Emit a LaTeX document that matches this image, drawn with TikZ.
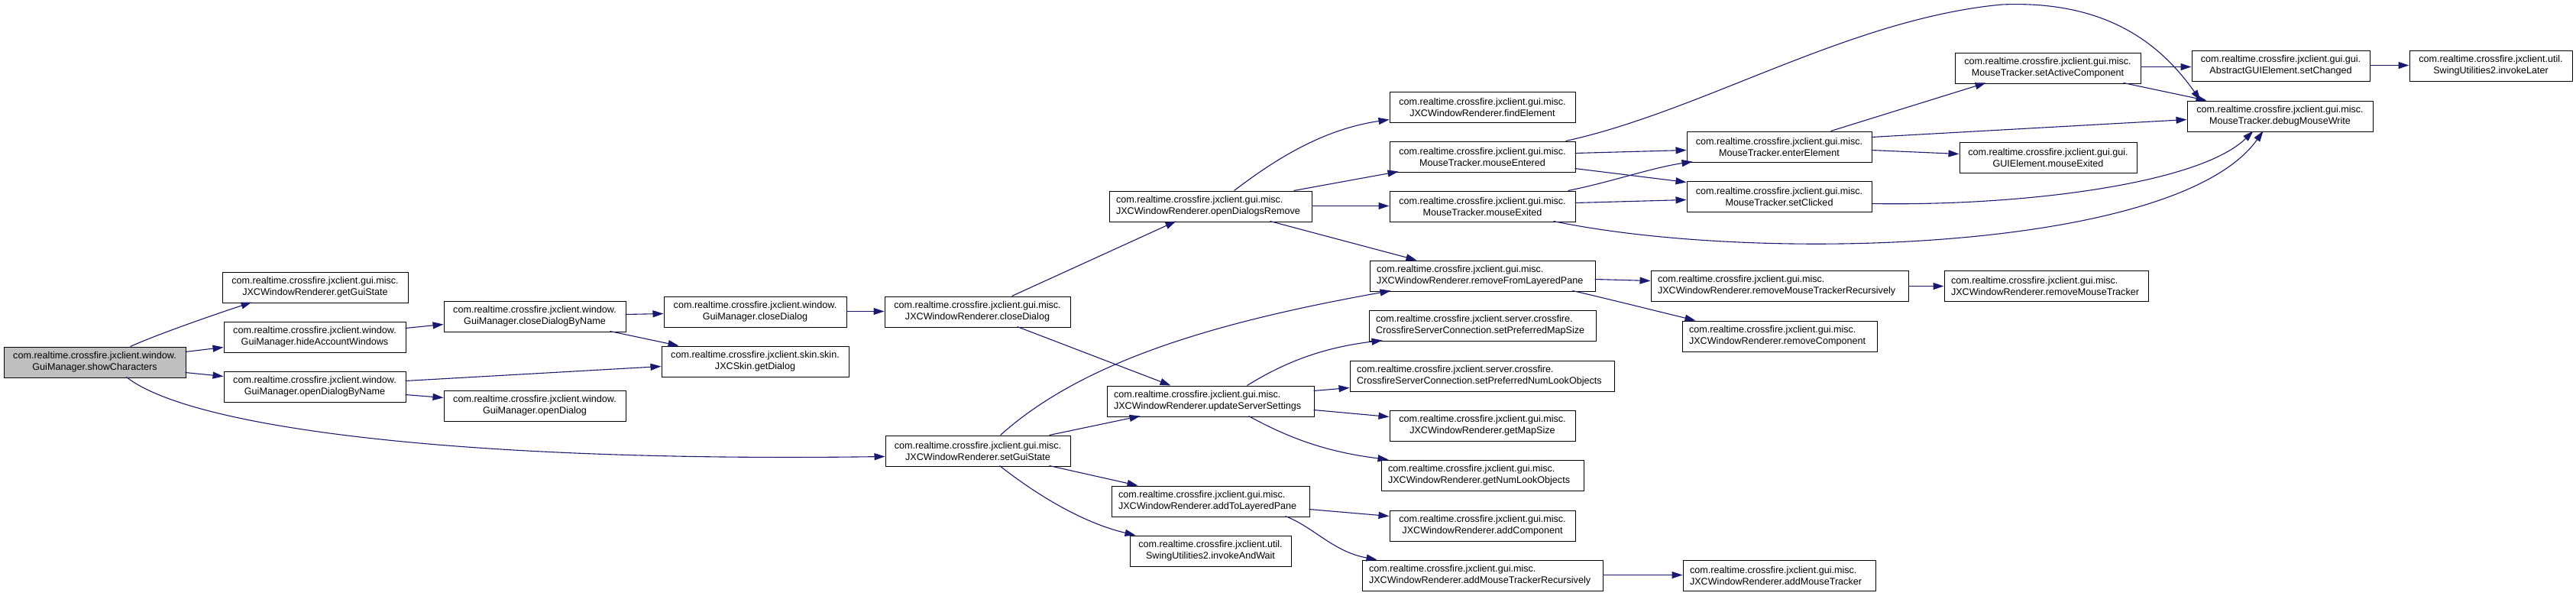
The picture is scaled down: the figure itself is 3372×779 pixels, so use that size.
\documentclass[tikz,border=0pt]{standalone}
\usepackage{fontspec}
\setmainfont{Liberation Sans}
\usetikzlibrary{arrows.meta}
\definecolor{edgeblue}{HTML}{191970}
\definecolor{rootgray}{HTML}{BFBFBF}
\newcommand\bnode[7]{%
 \pgfmathsetmacro\mybw{#4-#2}%
 \pgfmathsetmacro\mytw{#4-#2-18}%
 \node[box,minimum width=\mybw pt,text width=\mytw pt,align=#6] (#1) at ({(#2+#4)/2},{(#3+#5)/2}) {#7};}
\begin{document}
\begin{tikzpicture}[x=1pt,y=-1pt,
  box/.style={draw=black, line width=1pt, minimum height=40pt, inner xsep=9pt, inner ysep=2pt,
    font=\fontsize{12.6}{15}\selectfont, fill=white},
  edge/.style={draw=edgeblue, line width=1.1pt, -{Triangle[length=14pt,width=9pt]}}]
\useasboundingbox[fill=white] (0,0) rectangle (3372,779);
\bnode{sc}{5}{454}{243}{494}{center,fill=rootgray}{com.realtime.crossfire.jxclient.window.\\GuiManager.showCharacters}
\bnode{ggs}{291}{356}{534}{396}{center}{com.realtime.crossfire.jxclient.gui.misc.\\JXCWindowRenderer.getGuiState}
\bnode{hide}{293}{421}{531}{461}{center}{com.realtime.crossfire.jxclient.window.\\GuiManager.hideAccountWindows}
\bnode{odbn}{293}{486}{531}{526}{center}{com.realtime.crossfire.jxclient.window.\\GuiManager.openDialogByName}
\bnode{cdbn}{581}{394}{819}{434}{center}{com.realtime.crossfire.jxclient.window.\\GuiManager.closeDialogByName}
\bnode{gmcd}{869}{388}{1108}{428}{center}{com.realtime.crossfire.jxclient.window.\\GuiManager.closeDialog}
\bnode{gd}{866}{453}{1111}{493}{center}{com.realtime.crossfire.jxclient.skin.skin.\\JXCSkin.getDialog}
\bnode{od}{581}{511}{819}{551}{center}{com.realtime.crossfire.jxclient.window.\\GuiManager.openDialog}
\bnode{wrcd}{1158}{388}{1401}{428}{center}{com.realtime.crossfire.jxclient.gui.misc.\\JXCWindowRenderer.closeDialog}
\bnode{odr}{1452}{250}{1717}{290}{left}{com.realtime.crossfire.jxclient.gui.misc.\\JXCWindowRenderer.openDialogsRemove}
\bnode{sgs}{1159}{570}{1401}{610}{center}{com.realtime.crossfire.jxclient.gui.misc.\\JXCWindowRenderer.setGuiState}
\bnode{uss}{1449}{505}{1720}{545}{left}{com.realtime.crossfire.jxclient.gui.misc.\\JXCWindowRenderer.updateServerSettings}
\bnode{atlp}{1455}{636}{1714}{676}{left}{com.realtime.crossfire.jxclient.gui.misc.\\JXCWindowRenderer.addToLayeredPane}
\bnode{iaw}{1479}{701}{1690}{741}{center}{com.realtime.crossfire.jxclient.util.\\SwingUtilities2.invokeAndWait}
\bnode{fe}{1819}{120}{2062}{160}{center}{com.realtime.crossfire.jxclient.gui.misc.\\JXCWindowRenderer.findElement}
\bnode{me}{1819}{185}{2062}{225}{center}{com.realtime.crossfire.jxclient.gui.misc.\\MouseTracker.mouseEntered}
\bnode{mx}{1819}{250}{2062}{290}{center}{com.realtime.crossfire.jxclient.gui.misc.\\MouseTracker.mouseExited}
\bnode{rflp}{1793}{341}{2088}{381}{left}{com.realtime.crossfire.jxclient.gui.misc.\\JXCWindowRenderer.removeFromLayeredPane}
\bnode{spms}{1792}{406}{2089}{446}{left}{com.realtime.crossfire.jxclient.server.crossfire.\\CrossfireServerConnection.setPreferredMapSize}
\bnode{spnlo}{1767}{472}{2113}{512}{left}{com.realtime.crossfire.jxclient.server.crossfire.\\CrossfireServerConnection.setPreferredNumLookObjects}
\bnode{gms}{1819}{537}{2062}{577}{center}{com.realtime.crossfire.jxclient.gui.misc.\\JXCWindowRenderer.getMapSize}
\bnode{gnlo}{1808}{602}{2073}{642}{left}{com.realtime.crossfire.jxclient.gui.misc.\\JXCWindowRenderer.getNumLookObjects}
\bnode{ac}{1819}{668}{2062}{708}{center}{com.realtime.crossfire.jxclient.gui.misc.\\JXCWindowRenderer.addComponent}
\bnode{amtr}{1783}{733}{2098}{773}{left}{com.realtime.crossfire.jxclient.gui.misc.\\JXCWindowRenderer.addMouseTrackerRecursively}
\bnode{ee}{2208}{172}{2450}{212}{center}{com.realtime.crossfire.jxclient.gui.misc.\\MouseTracker.enterElement}
\bnode{scl}{2208}{237}{2450}{277}{center}{com.realtime.crossfire.jxclient.gui.misc.\\MouseTracker.setClicked}
\bnode{rmtr}{2161}{354}{2498}{394}{left}{com.realtime.crossfire.jxclient.gui.misc.\\JXCWindowRenderer.removeMouseTrackerRecursively}
\bnode{rc}{2202}{420}{2457}{460}{left}{com.realtime.crossfire.jxclient.gui.misc.\\JXCWindowRenderer.removeComponent}
\bnode{rmt}{2545}{354}{2812}{394}{left}{com.realtime.crossfire.jxclient.gui.misc.\\JXCWindowRenderer.removeMouseTracker}
\bnode{amt}{2203}{733}{2455}{773}{left}{com.realtime.crossfire.jxclient.gui.misc.\\JXCWindowRenderer.addMouseTracker}
\bnode{sac}{2559}{69}{2802}{109}{center}{com.realtime.crossfire.jxclient.gui.misc.\\MouseTracker.setActiveComponent}
\bnode{gme}{2565}{186}{2797}{226}{center}{com.realtime.crossfire.jxclient.gui.gui.\\GUIElement.mouseExited}
\bnode{sch}{2869}{66}{3102}{106}{center}{com.realtime.crossfire.jxclient.gui.gui.\\AbstractGUIElement.setChanged}
\bnode{il}{3154}{66}{3367}{106}{center}{com.realtime.crossfire.jxclient.util.\\SwingUtilities2.invokeLater}
\bnode{dmw}{2863}{132}{3106}{172}{center}{com.realtime.crossfire.jxclient.gui.misc.\\MouseTracker.debugMouseWrite}
% edges
\draw[edge] ([shift={(166,0)}]sc.north west) .. controls (210,436) and (280,412) .. ([shift={(39,40)}]ggs.north west);
\draw[edge] ([shift={(238,7)}]sc.north west) -- ([shift={(0,34)}]hide.north west);
\draw[edge] ([shift={(238,34)}]sc.north west) -- ([shift={(0,7)}]odbn.north west);
\draw[edge] ([shift={(161,40)}]sc.north west) .. controls (250,560) and (600,605) .. ([shift={(0,28)}]sgs.north west);
\draw[edge] ([shift={(238,9)}]hide.north west) -- ([shift={(0,31)}]cdbn.north west);
\draw[edge] ([shift={(238,18)}]cdbn.north west) -- ([shift={(0,23)}]gmcd.north west);
\draw[edge] ([shift={(218,40)}]cdbn.north west) -- ([shift={(23,0)}]gd.north west);
\draw[edge] ([shift={(238,13)}]odbn.north west) -- ([shift={(0,27)}]gd.north west);
\draw[edge] ([shift={(238,31)}]odbn.north west) -- ([shift={(0,10)}]od.north west);
\draw[edge] ([shift={(239,20)}]gmcd.north west) -- ([shift={(0,20)}]wrcd.north west);
\draw[edge] ([shift={(167,0)}]wrcd.north west) -- ([shift={(88,40)}]odr.north west);
\draw[edge] ([shift={(174,40)}]wrcd.north west) -- ([shift={(84,0)}]uss.north west);
\draw[edge] ([shift={(164,0)}]odr.north west) .. controls (1680,200) and (1740,168) .. ([shift={(0,37)}]fe.north west);
\draw[edge] ([shift={(242,0)}]odr.north west) -- ([shift={(12,40)}]me.north west);
\draw[edge] ([shift={(265,20)}]odr.north west) -- ([shift={(0,20)}]mx.north west);
\draw[edge] ([shift={(211,40)}]odr.north west) -- ([shift={(62,0)}]rflp.north west);
\draw[edge] ([shift={(151,0)}]sgs.north west) .. controls (1420,470) and (1600,420) .. ([shift={(28,40)}]rflp.north west);
\draw[edge] ([shift={(215,0)}]sgs.north west) -- ([shift={(44,40)}]uss.north west);
\draw[edge] ([shift={(215,40)}]sgs.north west) -- ([shift={(35,0)}]atlp.north west);
\draw[edge] ([shift={(150,40)}]sgs.north west) .. controls (1360,650) and (1420,685) .. ([shift={(8,0)}]iaw.north west);
\draw[edge] ([shift={(184,0)}]uss.north west) .. controls (1680,475) and (1730,455) .. ([shift={(18,40)}]spms.north west);
\draw[edge] ([shift={(271,7)}]uss.north west) -- ([shift={(0,36)}]spnlo.north west);
\draw[edge] ([shift={(271,32)}]uss.north west) -- ([shift={(0,9)}]gms.north west);
\draw[edge] ([shift={(186,40)}]uss.north west) .. controls (1690,575) and (1740,592) .. ([shift={(10,0)}]gnlo.north west);
\draw[edge] ([shift={(259,31)}]atlp.north west) -- ([shift={(0,8)}]ac.north west);
\draw[edge] ([shift={(228,40)}]atlp.north west) .. controls (1720,690) and (1745,722) .. ([shift={(20,0)}]amtr.north west);
\draw[edge] ([shift={(315,20)}]amtr.north west) -- ([shift={(0,20)}]amt.north west);
\draw[edge] ([shift={(295,25)}]rflp.north west) -- ([shift={(0,14)}]rmtr.north west);
\draw[edge] ([shift={(266,40)}]rflp.north west) .. controls (2100,390) and (2160,405) .. ([shift={(18,0)}]rc.north west);
\draw[edge] ([shift={(337,21)}]rmtr.north west) -- ([shift={(0,21)}]rmt.north west);
\draw[edge] ([shift={(243,16)}]me.north west) -- ([shift={(0,25)}]ee.north west);
\draw[edge] ([shift={(243,36)}]me.north west) -- ([shift={(0,2)}]scl.north west);
\draw[edge] ([shift={(231,0)}]me.north west) .. controls (2230,145) and (2420,25) .. (2620,6) .. controls (2760,0) and (2830,60) .. ([shift={(18,0)}]dmw.north west);
\draw[edge] ([shift={(234,0)}]mx.north west) .. controls (2110,238) and (2160,220) .. ([shift={(8,40)}]ee.north west);
\draw[edge] ([shift={(243,16)}]mx.north west) -- ([shift={(0,25)}]scl.north west);
\draw[edge] ([shift={(215,40)}]mx.north west) .. controls (2300,345) and (2850,330) .. ([shift={(100,40)}]dmw.north west);
\draw[edge] ([shift={(189,0)}]ee.north west) -- ([shift={(41,40)}]sac.north west);
\draw[edge] ([shift={(242,25)}]ee.north west) -- ([shift={(0,16)}]gme.north west);
\draw[edge] ([shift={(242,8)}]ee.north west) -- ([shift={(0,25)}]dmw.north west);
\draw[edge] ([shift={(242,30)}]scl.north west) .. controls (2650,270) and (2880,240) .. ([shift={(87,40)}]dmw.north west);
\draw[edge] ([shift={(243,19)}]sac.north west) -- ([shift={(0,22)}]sch.north west);
\draw[edge] ([shift={(221,40)}]sac.north west) -- ([shift={(26,0)}]dmw.north west);
\draw[edge] ([shift={(233,20)}]sch.north west) -- ([shift={(0,20)}]il.north west);
\end{tikzpicture}
\end{document}
